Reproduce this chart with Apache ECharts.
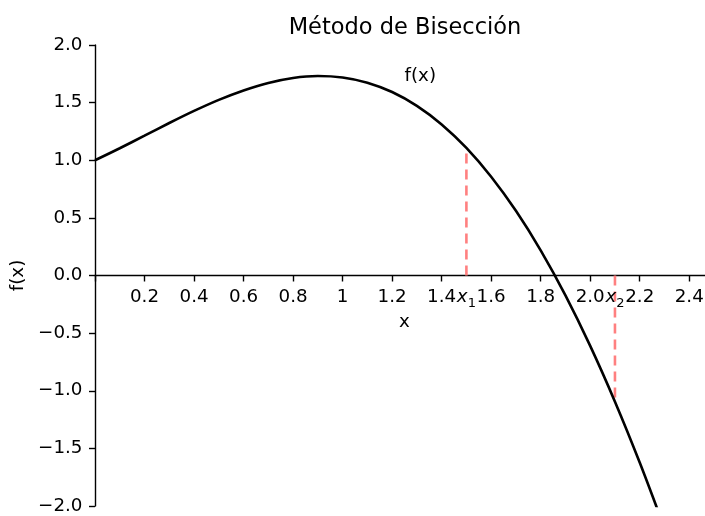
<!DOCTYPE html>
<html>
<head>
<meta charset="utf-8">
<script src="https://cdn.jsdelivr.net/npm/echarts@6/dist/echarts.min.js"></script>
<style>
  html, body { margin: 0; padding: 0; background: #ffffff; }
  #chart { width: 705px; height: 516px; }
</style>
</head>
<body>
<div id="chart"></div>
<script>
// Sampled curve f(x)
const xValues = [0.0, 0.1, 0.2, 0.3, 0.4, 0.5, 0.6, 0.7, 0.8, 0.9, 1.0, 1.1,
                 1.2, 1.3, 1.4, 1.5, 1.6, 1.7, 1.8, 1.9, 2.0, 2.1, 2.2, 2.3];
const fValues = [1.000, 1.104, 1.213, 1.323, 1.428, 1.524, 1.606, 1.671, 1.714, 1.731, 1.718, 1.673,
                 1.592, 1.472, 1.311, 1.107, 0.857, 0.561, 0.218, -0.173, -0.611, -1.095, -1.623, -2.193];

// Bisection iterates x1, x2 and the function value at each
const iterX = [1.5, 2.1];
const iterF = [1.107, -1.095];
const iterSub = ['1', '2'];

// Axis ticks and their printed labels
const xTicks = [0.0, 0.2, 0.4, 0.6, 0.8, 1.0, 1.2, 1.4, 1.6, 1.8, 2.0, 2.2, 2.4];
const xTickLabels = ['', '0.2', '0.4', '0.6', '0.8', '1', '1.2', '1.4', '1.6', '1.8', '2.0', '2.2', '2.4'];
const yTicks = [-2.0, -1.5, -1.0, -0.5, 0.0, 0.5, 1.0, 1.5, 2.0];
const yTickLabels = ['\u22122.0', '\u22121.5', '\u22121.0', '\u22120.5', '0.0', '0.5', '1.0', '1.5', '2.0'];

// Position of the curve's caption, in data units
const captionAt = [1.25, 1.73];
const captionText = 'f(x)';

const FONT = 'DejaVu Sans';
const FS = 18.3;
const INK = '#000000';
const DASH_RED = '#ff8080';

// Plot box and value ranges
const GRID = { left: 95, top: 45, width: 619, height: 461 };
const X_RANGE = [0, 2.5];
const Y_RANGE = [-2, 2];
// lift the bottom axis so that it runs along y = 0
const xAxisShift = -GRID.height * (0 - Y_RANGE[0]) / (Y_RANGE[1] - Y_RANGE[0]);

function tickLabel(v, ticks, labels) {
  for (let i = 0; i < ticks.length; i++) {
    if (Math.abs(ticks[i] - v) < 1e-6) return labels[i];
  }
  return '';
}

const curve = xValues.map((x, i) => [x, fValues[i]]);

const dashedSeries = iterX.map((x, i) => ({
  type: 'line',
  data: [[x, 0], [x, iterF[i]]],
  showSymbol: false,
  symbol: 'none',
  lineStyle: { color: DASH_RED, width: 2.6, type: [10, 6] },
  z: 3,
  silent: true
}));

const chart = echarts.init(document.getElementById('chart'), null, { renderer: 'canvas' });

chart.setOption({
  animation: false,
  backgroundColor: '#ffffff',
  graphic: [{
    type: 'text',
    x: 405,
    y: 28,
    style: {
      text: 'Método de Bisección',
      fill: INK,
      font: '22.5px "DejaVu Sans"',
      align: 'center',
      verticalAlign: 'middle'
    }
  }],
  grid: Object.assign({ outerBoundsMode: 'none', containLabel: false }, GRID),
  xAxis: {
    type: 'value',
    position: 'bottom',
    offset: xAxisShift,
    min: X_RANGE[0],
    max: X_RANGE[1],
    interval: 0.2,
    name: 'x',
    nameLocation: 'middle',
    nameGap: 38,
    nameTextStyle: { fontFamily: FONT, fontSize: FS, color: INK },
    axisLine: { show: true, onZero: false, lineStyle: { color: INK, width: 1.4 } },
    axisTick: { show: true, length: 6, lineStyle: { color: INK, width: 1.4 } },
    axisLabel: {
      margin: 13,
      fontFamily: FONT,
      fontSize: FS,
      color: INK,
      showMaxLabel: false,
      formatter: v => tickLabel(v, xTicks, xTickLabels)
    },
    splitLine: { show: false }
  },
  yAxis: {
    type: 'value',
    min: Y_RANGE[0],
    max: Y_RANGE[1],
    interval: 0.5,
    name: 'f(x)',
    nameLocation: 'middle',
    nameGap: 64,
    nameTextStyle: { fontFamily: FONT, fontSize: FS, color: INK },
    axisLine: { show: true, onZero: false, lineStyle: { color: INK, width: 1.4 } },
    axisTick: { show: true, length: 6, lineStyle: { color: INK, width: 1.4 } },
    axisLabel: {
      margin: 12.5,
      fontFamily: FONT,
      fontSize: FS,
      color: INK,
      formatter: v => tickLabel(v, yTicks, yTickLabels)
    },
    splitLine: { show: false }
  },
  series: [
    {
      type: 'line',
      name: 'f(x)',
      data: curve,
      smooth: 0.3,
      showSymbol: false,
      symbol: 'none',
      clip: true,
      lineStyle: { color: INK, width: 2.6 },
      z: 4
    },
    ...dashedSeries,
    {
      // x1, x2 labels on the tick-label row
      type: 'scatter',
      data: iterX.map((x, i) => ({ value: [x, 0], sub: iterSub[i] })),
      symbolSize: 0,
      silent: true,
      itemStyle: { opacity: 1 },
      label: {
        show: true,
        position: [0, 0],
        offset: [0, 13],
        align: 'center',
        verticalAlign: 'top',
        formatter: p => '{v|x}{s|' + p.data.sub + '}',
        rich: {
          v: { fontFamily: FONT, fontStyle: 'italic', fontSize: FS, color: INK, lineHeight: 20, verticalAlign: 'top' },
          s: { fontFamily: FONT, fontSize: 13, color: INK, lineHeight: 13, padding: [9, 0, 0, 0], verticalAlign: 'top' }
        }
      },
      z: 5
    },
    {
      // caption of the curve
      type: 'scatter',
      data: [captionAt],
      symbolSize: 0,
      silent: true,
      itemStyle: { opacity: 1 },
      label: {
        show: true,
        position: [0, 0],
        align: 'left',
        verticalAlign: 'middle',
        formatter: captionText,
        fontFamily: FONT,
        fontSize: FS,
        color: INK
      },
      z: 5
    }
  ]
});
</script>
</body>
</html>
